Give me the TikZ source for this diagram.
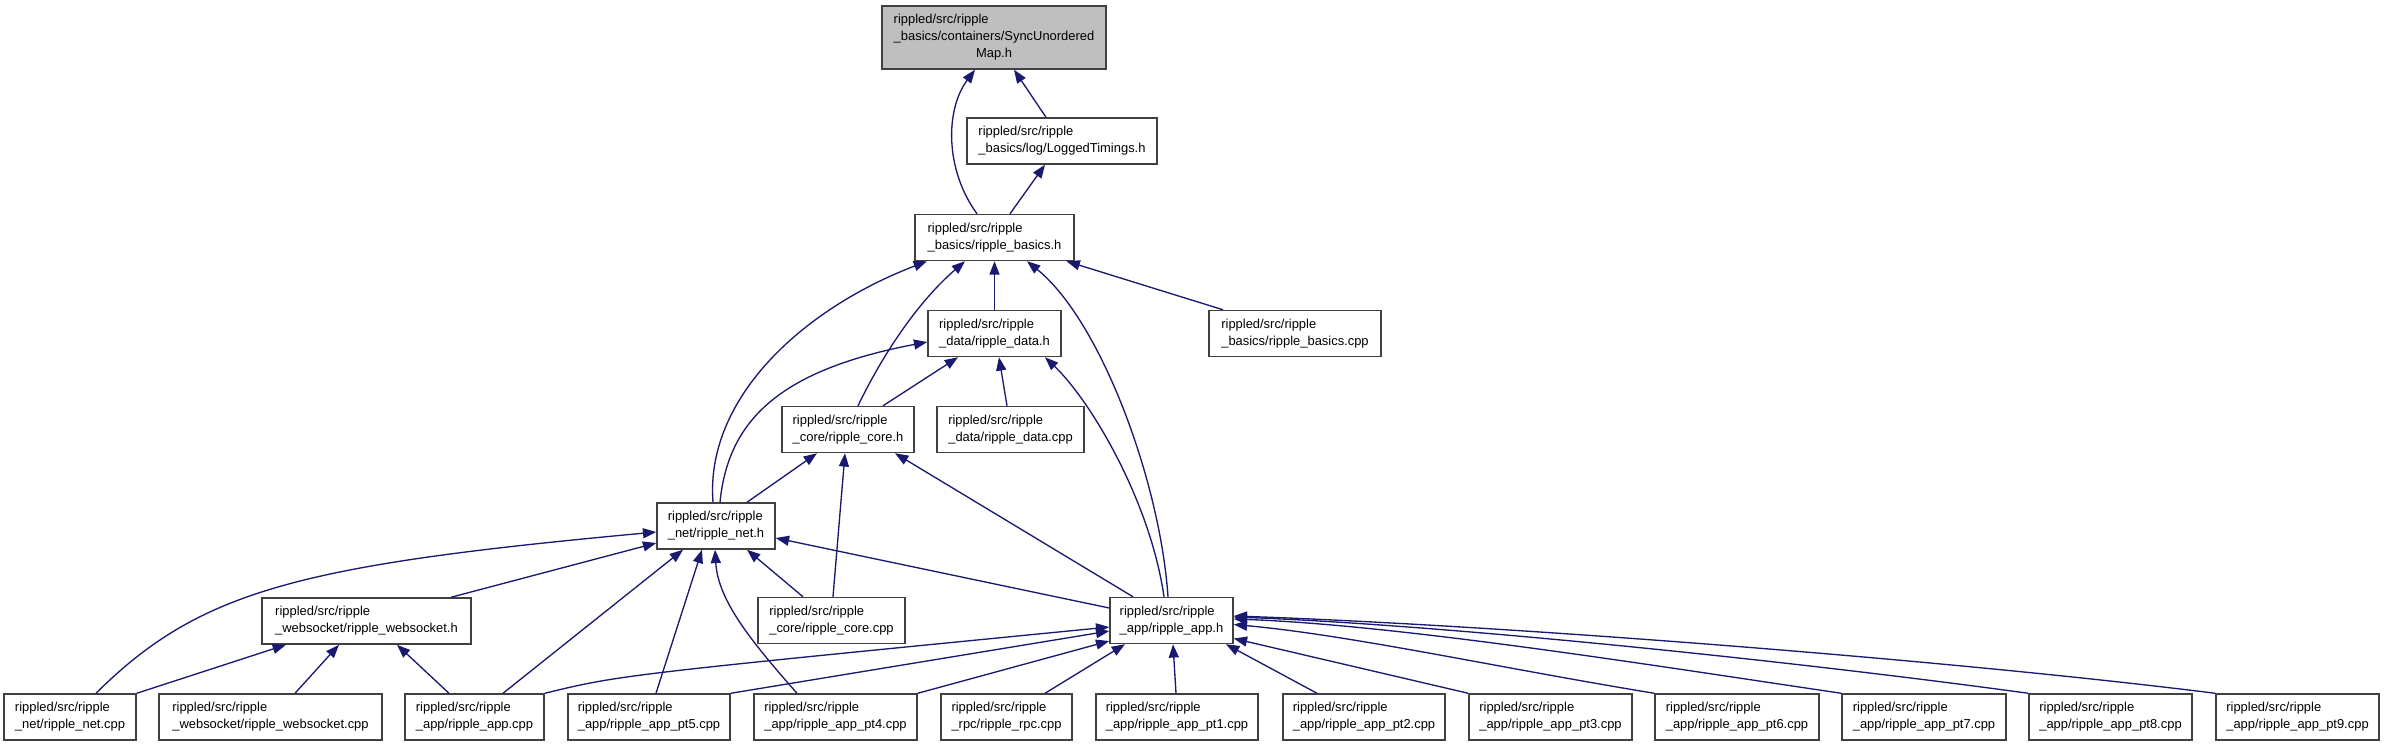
\documentclass[tikz,border=0pt]{standalone}
\usepackage{fontspec}
\setmainfont{Liberation Sans}
\usetikzlibrary{arrows.meta, calc}
\definecolor{edgeblue}{RGB}{25,25,112}
\definecolor{boxgray}{RGB}{191,191,191}

\begin{document}
\begin{tikzpicture}[x=0.75pt, y=-0.75pt,
  font=\fontsize{9.7}{12.75}\selectfont,
  box/.style={draw=black!75, line width=1.1pt, fill=white, align=left,
    inner xsep=1pt, inner ysep=1pt, minimum height=34.5pt},
  dep/.style={draw=edgeblue, line width=1pt, -{Triangle[length=10pt, width=7.5pt]}}]

  \useasboundingbox (0,0) rectangle (2384,747);

  % ===== CABECERAS =====
  \node[box, fill=boxgray, minimum width=168pt, minimum height=47.25pt] (sync) at (994,37.5)
    {\begin{tabular}{@{}l@{}}rippled/src/ripple\\ \_basics/containers/SyncUnordered\\ \multicolumn{1}{@{}c@{}}{Map.h}\end{tabular}};
  \node[box, minimum width=142.5pt] (logged) at (1062,141) {rippled/src/ripple\\\_basics/log/LoggedTimings.h};
  \node[box, minimum width=119.25pt] (basicsh) at (994.5,237.5) {rippled/src/ripple\\\_basics/ripple\_basics.h};
  \node[box, minimum width=99.75pt] (datah) at (994.5,333.5) {rippled/src/ripple\\\_data/ripple\_data.h};
  \node[box, minimum width=129pt] (basicscpp) at (1295,333.5) {rippled/src/ripple\\\_basics/ripple\_basics.cpp};
  \node[box, minimum width=99pt] (coreh) at (848,429.5) {rippled/src/ripple\\\_core/ripple\_core.h};
  \node[box, minimum width=110.25pt] (datacpp) at (1010.5,429.5) {rippled/src/ripple\\\_data/ripple\_data.cpp};
  \node[box, minimum width=88.5pt] (neth) at (716,526) {rippled/src/ripple\\\_net/ripple\_net.h};
  \node[box, minimum width=156.75pt] (websocketh) at (366.5,621) {rippled/src/ripple\\\_websocket/ripple\_websocket.h};
  \node[box, minimum width=110.25pt] (corecpp) at (831.5,620.5) {rippled/src/ripple\\\_core/ripple\_core.cpp};
  \node[box, minimum width=92.25pt] (apph) at (1171.5,620.5) {rippled/src/ripple\\\_app/ripple\_app.h};

  % ===== FUENTES (fila inferior) =====
  \node[box, minimum width=99pt] (netcpp) at (70,717) {rippled/src/ripple\\\_net/ripple\_net.cpp};
  \node[box, minimum width=167.25pt] (websocketcpp) at (270.5,717) {rippled/src/ripple\\\_websocket/ripple\_websocket.cpp};
  \node[box, minimum width=104.25pt] (appcpp) at (474.5,717) {rippled/src/ripple\\\_app/ripple\_app.cpp};
  \node[box, minimum width=121.5pt] (pt5) at (649,717) {rippled/src/ripple\\\_app/ripple\_app\_pt5.cpp};
  \node[box, minimum width=122.25pt] (pt4) at (835.5,717) {rippled/src/ripple\\\_app/ripple\_app\_pt4.cpp};
  \node[box, minimum width=98.25pt] (rpc) at (1006.5,717) {rippled/src/ripple\\\_rpc/ripple\_rpc.cpp};
  \node[box, minimum width=121.5pt] (pt1) at (1177,717) {rippled/src/ripple\\\_app/ripple\_app\_pt1.cpp};
  \node[box, minimum width=121.5pt] (pt2) at (1364,717) {rippled/src/ripple\\\_app/ripple\_app\_pt2.cpp};
  \node[box, minimum width=122.25pt] (pt3) at (1550.5,717) {rippled/src/ripple\\\_app/ripple\_app\_pt3.cpp};
  \node[box, minimum width=123pt] (pt6) at (1737,717) {rippled/src/ripple\\\_app/ripple\_app\_pt6.cpp};
  \node[box, minimum width=123pt] (pt7) at (1924,717) {rippled/src/ripple\\\_app/ripple\_app\_pt7.cpp};
  \node[box, minimum width=122.25pt] (pt8) at (2110.5,717) {rippled/src/ripple\\\_app/ripple\_app\_pt8.cpp};
  \node[box, minimum width=122.25pt] (pt9) at (2297.5,717) {rippled/src/ripple\\\_app/ripple\_app\_pt9.cpp};

  % ===== DEPENDENCIAS: SyncUnorderedMap.h / LoggedTimings.h =====
  \draw[dep] ($(logged.north)+(-16,0)$) -- ($(sync.south)+(20,0)$);
  \draw[dep] ($(basicsh.north)+(-17.5,0)$) .. controls (945,170) and (945,110) .. ($(sync.south)+(-19,0)$);
  \draw[dep] ($(basicsh.north)+(15.5,0)$) -- ($(logged.south)+(-17,0)$);

  % ===== ripple_basics.h =====
  \draw[dep] (datah.north) -- (basicsh.south);
  \draw[dep] ($(basicscpp.north)+(-72,0)$) -- ($(basicsh.south)+(72,0)$);
  \draw[dep] ($(coreh.north)+(10,0)$) .. controls (885,350) and (920,300) .. ($(basicsh.south)+(-29.5,0)$);
  \draw[dep] ($(neth.north)+(-3,0)$) .. controls (705,400) and (800,310) .. ($(basicsh.south)+(-67.5,0)$);
  \draw[dep] ($(apph.north)+(-3.5,0)$) .. controls (1160,480) and (1100,320) .. ($(basicsh.south)+(32.5,0)$);

  % ===== ripple_data.h =====
  \draw[dep] ($(coreh.north)+(35,0)$) -- ($(datah.south)+(-36.5,0)$);
  \draw[dep] ($(datacpp.north)+(-3.5,0)$) -- ($(datah.south)+(4.5,0)$);
  \draw[dep] ($(neth.north)+(4,0)$) .. controls (728,420) and (780,370) .. ($(datah.west)+(0,8.5)$);
  \draw[dep] ($(apph.north)+(-7.5,0)$) .. controls (1150,500) and (1090,400) .. ($(datah.south)+(50.5,0)$);

  % ===== ripple_core.h =====
  \draw[dep] ($(neth.north)+(31,0)$) -- ($(coreh.south)+(-31,0)$);
  \draw[dep] ($(corecpp.north)+(1.5,0)$) -- ($(coreh.south)+(-3,0)$);
  \draw[dep] ($(apph.north)+(-38.5,0)$) -- ($(coreh.south)+(47,0)$);

  % ===== ripple_net.h =====
  \draw[dep] ($(websocketh.north)+(84.5,0)$) -- ($(neth.west)+(0,17)$);
  \draw[dep] ($(netcpp.north)+(26,0)$) .. controls (200,590) and (300,565) .. ($(neth.west)+(0,6)$);
  \draw[dep] ($(appcpp.north)+(28.5,0)$) -- ($(neth.south)+(-33,0)$);
  \draw[dep] ($(pt5.north)+(7,0)$) -- ($(neth.south)+(-14,0)$);
  \draw[dep] ($(pt4.north)+(-38.5,0)$) .. controls (750,640) and (718,600) .. ($(neth.south)+(-1,0)$);
  \draw[dep] ($(corecpp.north)+(-28.5,0)$) -- ($(neth.south)+(31,0)$);
  \draw[dep] ($(apph.west)+(0,-12.5)$) -- ($(neth.east)+(0,12)$);

  % ===== ripple_websocket.h =====
  \draw[dep] (netcpp.north east) -- ($(websocketh.south)+(-80.5,0)$);
  \draw[dep] ($(websocketcpp.north)+(24.5,0)$) -- ($(websocketh.south)+(-27.5,0)$);
  \draw[dep] ($(appcpp.north)+(-25.5,0)$) -- ($(websocketh.south)+(30.5,0)$);

  % ===== ripple_app.h =====
  \draw[dep] (appcpp.north east) .. controls (620,675) .. ($(apph.west)+(0,6.5)$);
  \draw[dep] (pt5.north east) -- ($(apph.west)+(0,10.5)$);
  \draw[dep] (pt4.north east) -- ($(apph.west)+(0,20.5)$);
  \draw[dep] ($(rpc.north)+(38.5,0)$) -- ($(apph.south)+(-46.5,0)$);
  \draw[dep] ($(pt1.north)+(-1,0)$) -- ($(apph.south)+(1.5,0)$);
  \draw[dep] ($(pt2.north)+(-47,0)$) -- ($(apph.south)+(54.5,0)$);
  \draw[dep] (pt3.north west) -- ($(apph.east)+(0,18)$);
  \draw[dep] (pt6.north west) .. controls (1500,668) and (1350,635) .. ($(apph.east)+(0,4)$);
  \draw[dep] (pt7.north west) .. controls (1650,665) and (1400,625) .. ($(apph.east)+(0,-1.5)$);
  \draw[dep] (pt8.north west) .. controls (1800,662) and (1450,625) .. ($(apph.east)+(0,-3.5)$);
  \draw[dep] (pt9.north west) .. controls (1950,660) and (1500,625) .. ($(apph.east)+(0,-4.5)$);
\end{tikzpicture}
\end{document}
